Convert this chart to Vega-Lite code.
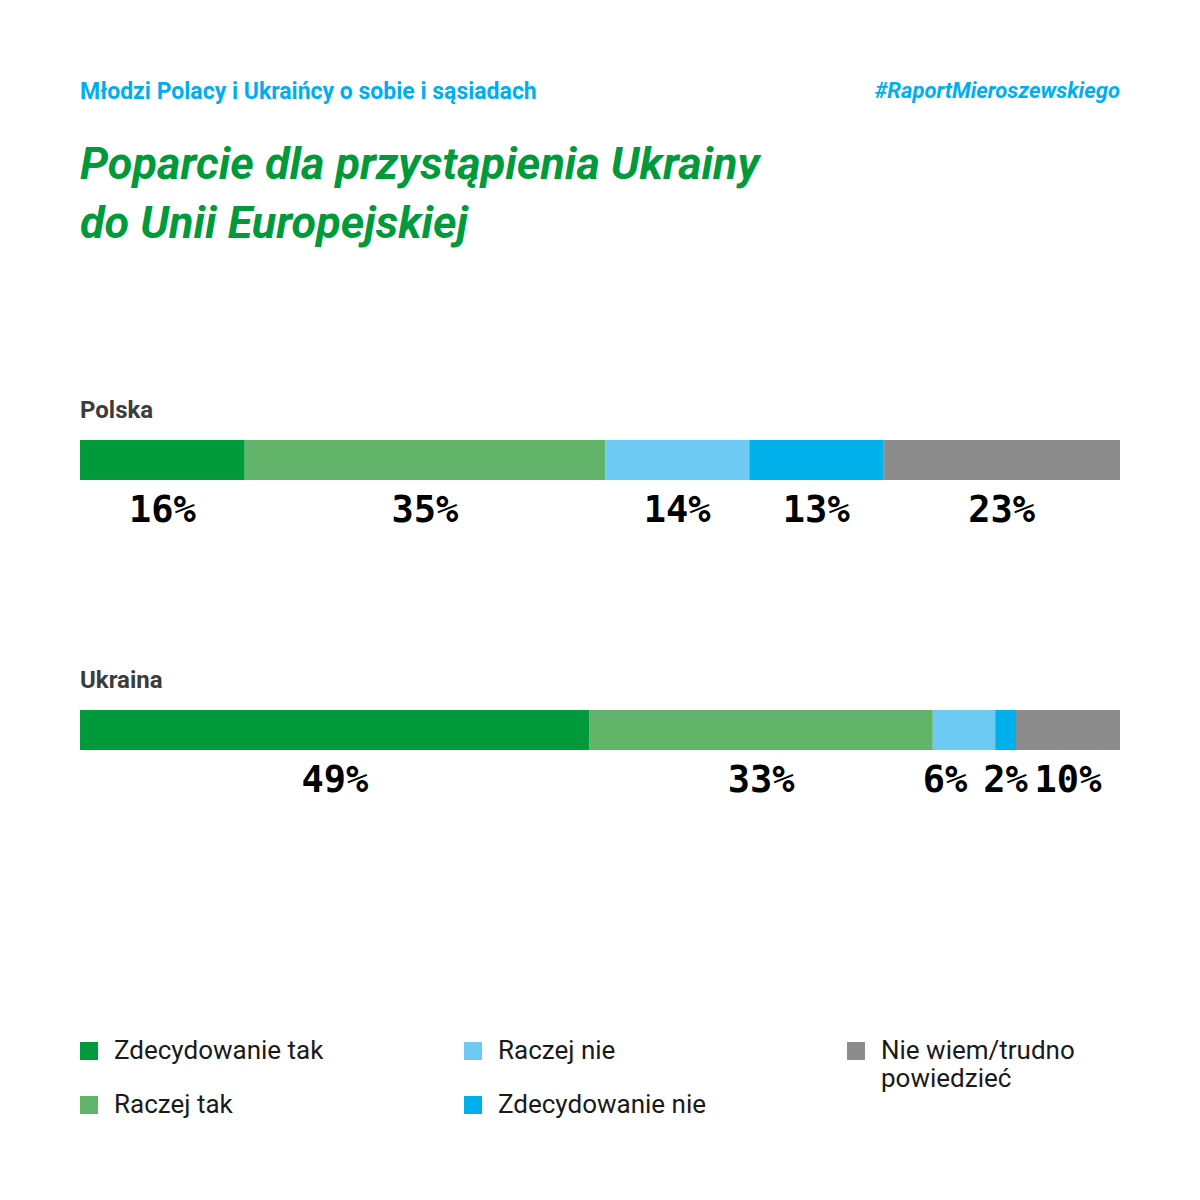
{
  "$schema": "https://vega.github.io/schema/vega-lite/v6.json",
  "background": "white",
  "padding": {"left": 76, "right": 80, "top": 80, "bottom": 60},
  "title": {
    "text": "#RaportMieroszewskiego",
    "anchor": "end",
    "frame": "bounds",
    "offset": -22,
    "font": "Roboto",
    "fontSize": 22,
    "fontWeight": "bold",
    "fontStyle": "italic",
    "color": "#00aeef"
  },
  "vconcat": [
    {
      "width": 1040,
      "height": 540,
      "title": {
        "text": "Młodzi Polacy i Ukraińcy o sobie i sąsiadach",
        "subtitle": ["Poparcie dla przystąpienia Ukrainy", "do Unii Europejskiej"],
        "anchor": "start",
        "font": "Roboto",
        "fontSize": 23,
        "fontWeight": "bold",
        "color": "#00aeef",
        "subtitleFont": "Roboto",
        "subtitleFontSize": 45,
        "subtitleFontWeight": "bold",
        "subtitleFontStyle": "italic",
        "subtitleColor": "#009a3b",
        "subtitleLineHeight": 59,
        "subtitlePadding": 39,
        "offset": 78
      },
      "data": {
        "values": [
          {"country": "Polska", "answer": "Zdecydowanie tak", "order": 1, "value": 16},
          {"country": "Polska", "answer": "Raczej tak", "order": 2, "value": 35},
          {"country": "Polska", "answer": "Raczej nie", "order": 3, "value": 14},
          {"country": "Polska", "answer": "Zdecydowanie nie", "order": 4, "value": 13},
          {"country": "Polska", "answer": "Nie wiem/trudno powiedzieć", "order": 5, "value": 23},
          {"country": "Ukraina", "answer": "Zdecydowanie tak", "order": 1, "value": 49},
          {"country": "Ukraina", "answer": "Raczej tak", "order": 2, "value": 33},
          {"country": "Ukraina", "answer": "Raczej nie", "order": 3, "value": 6},
          {"country": "Ukraina", "answer": "Zdecydowanie nie", "order": 4, "value": 2},
          {"country": "Ukraina", "answer": "Nie wiem/trudno powiedzieć", "order": 5, "value": 10}
        ]
      },
      "transform": [{"calculate": "datum.value + '%'", "as": "label"}],
      "encoding": {
        "y": {
          "field": "country",
          "type": "nominal",
          "sort": ["Polska", "Ukraina"],
          "axis": null,
          "scale": {"type": "point", "padding": 0.5}
        }
      },
      "layer": [
        {
          "mark": {"type": "bar", "size": 40},
          "encoding": {
            "x": {"field": "value", "type": "quantitative", "stack": "normalize", "axis": null, "scale": {"nice": false}},
            "color": {
              "field": "answer",
              "type": "nominal",
              "scale": {
                "domain": ["Zdecydowanie tak", "Raczej tak", "Raczej nie", "Zdecydowanie nie", "Nie wiem/trudno powiedzieć"],
                "range": ["#009a3b", "#63b46b", "#6dcaf3", "#00b0eb", "#8c8c8c"]
              },
              "legend": {
                "orient": "none",
                "legendX": -4,
                "legendY": 713,
                "padding": 0,
                "columns": 3,
                "title": null,
                "symbolType": "square",
                "symbolSize": 324,
                "symbolStrokeWidth": 0,
                "labelFont": "Roboto",
                "labelFontSize": 26,
                "labelColor": "#1a1a1a",
                "labelOffset": 12,
                "labelLimit": 400,
                "columnPadding": 136,
                "rowPadding": -12,
                "labelExpr": "datum.label == 'Nie wiem/trudno powiedzieć' ? ['Nie wiem/trudno', 'powiedzieć'] : [datum.label, '']"
              }
            },
            "order": {"field": "order", "type": "quantitative"}
          }
        },
        {
          "mark": {"type": "text", "font": "DejaVu Sans Mono", "fontWeight": "bold", "fontSize": 37, "baseline": "alphabetic", "dy": 62, "color": "#000000"},
          "encoding": {
            "x": {"field": "value", "type": "quantitative", "stack": "normalize", "bandPosition": 0.5},
            "detail": {"field": "answer"},
            "order": {"field": "order", "type": "quantitative"},
            "text": {"condition": {"test": "datum.country == 'Ukraina' && datum.answer == 'Raczej nie'", "value": ""}, "field": "label"}
          }
        },
        {
          "mark": {"type": "text", "font": "DejaVu Sans Mono", "fontWeight": "bold", "fontSize": 37, "baseline": "alphabetic", "dy": 62, "dx": -19, "color": "#000000"},
          "encoding": {
            "x": {"field": "value", "type": "quantitative", "stack": "normalize", "bandPosition": 0.5},
            "detail": {"field": "answer"},
            "order": {"field": "order", "type": "quantitative"},
            "text": {"condition": {"test": "!(datum.country == 'Ukraina' && datum.answer == 'Raczej nie')", "value": ""}, "field": "label"}
          }
        },
        {
          "transform": [{"filter": "datum.order == 1"}],
          "mark": {"type": "text", "font": "Roboto", "fontWeight": "bold", "fontSize": 24, "align": "left", "baseline": "alphabetic", "dy": -42, "color": "#3c3c3c"},
          "encoding": {
            "x": {"datum": 0, "type": "quantitative"},
            "text": {"field": "country"}
          }
        }
      ]
    }
  ],
  "config": {"view": {"stroke": null}}
}
